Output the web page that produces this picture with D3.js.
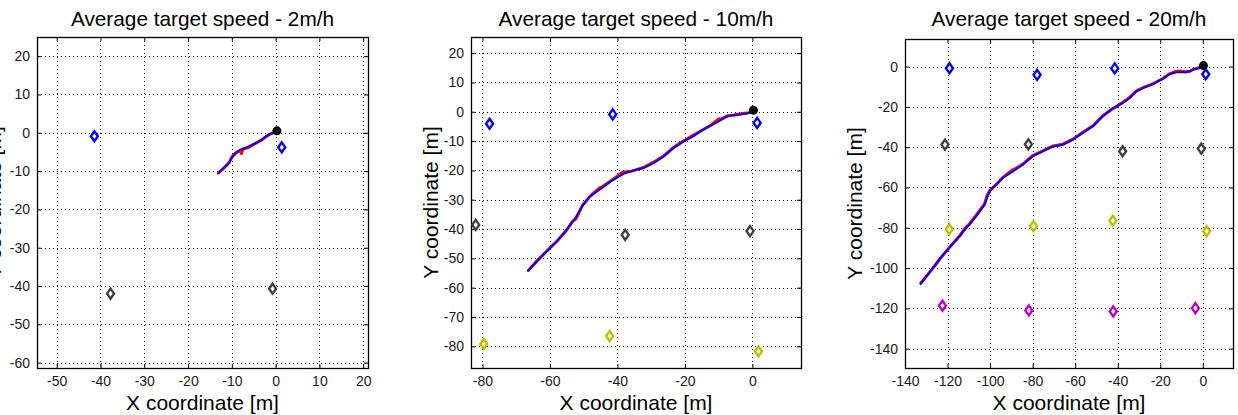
<!DOCTYPE html>
<html><head><meta charset="utf-8">
<script src="https://cdn.jsdelivr.net/npm/d3@7"></script>
<style>
body{margin:0;background:#fff}
svg{display:block}
text{font-family:"Liberation Sans",Arial,sans-serif}
</style>
</head><body>
<svg id="c" width="1238" height="415"></svg>
<script>
// ---------------- DATA ----------------
const titles = ["Average target speed - 2m/h", "Average target speed - 10m/h", "Average target speed - 20m/h"];
const xLabel = "X coordinate [m]";
const yLabel = "Y coordinate [m]";

const xLimits = [[-54.5, 21.1], [-83.4, 14.4], [-140, 14.2]];
const yLimits = [[-61.4, 25], [-87.4, 25.5], [-149.6, 13.7]];

const xTicks1 = [-50, -40, -30, -20, -10, 0, 10, 20];
const yTicks1 = [-60, -50, -40, -30, -20, -10, 0, 10, 20];
const xTicks2 = [-80, -60, -40, -20, 0];
const yTicks2 = [-80, -70, -60, -50, -40, -30, -20, -10, 0, 10, 20];
const xTicks3 = [-140, -120, -100, -80, -60, -40, -20, 0];
const yTicks3 = [-140, -120, -100, -80, -60, -40, -20, 0];

// anchor nodes (shared across the three scenarios)
const blueNodes    = [[-119.1, -0.8], [-77.9, -4.1], [-41.4, -0.9], [1.4, -3.8]];
const grayNodes    = [[-121.2, -38.7], [-82.0, -38.6], [-37.7, -42.0], [-0.7, -40.7]];
const yellowNodes  = [[-119.2, -80.7], [-79.6, -79.2], [-42.3, -76.5], [1.8, -81.7]];
const magentaNodes = [[-122.4, -118.7], [-81.8, -121.0], [-42.1, -121.5], [-3.5, -119.9]];
const startPoint = [0.3, 0.5];

// estimated tracks (blue) and true tracks (red)
const est2 = [[-13.3,-10.8],[-12.0,-9.3],[-10.8,-8.0],[-10.1,-6.7],[-9.3,-5.4],[-8.2,-4.5],[-6.6,-3.8],[-5.1,-3.0],[-3.6,-2.1],[-2.5,-1.2],[-1.3,-0.3],[-0.4,0.0],[0.2,0.4]];
const true2 = [[-13.2,-10.6],[-11.8,-9.2],[-10.6,-7.8],[-10.0,-6.3],[-9.0,-5.2],[-8.0,-4.6],[-7.8,-5.4],[-7.5,-4.3],[-6.2,-3.8],[-4.8,-2.9],[-3.2,-1.9],[-2.2,-1.0],[-1.0,-0.2],[0.2,0.3]];

const est10 = [[-66.7,-54.5],[-63.9,-51.0],[-60.9,-47.6],[-58.0,-44.2],[-55.0,-40.2],[-52.5,-36.3],[-50.5,-32.3],[-48.1,-28.9],[-45.1,-26.4],[-41.2,-23.2],[-38.2,-21.2],[-35.3,-20.0],[-32.3,-19.2],[-29.3,-17.5],[-26.4,-15.3],[-23.4,-12.4],[-20.4,-10.1],[-17.5,-8.4],[-15.5,-6.7],[-12.5,-4.8],[-9.6,-3.0],[-7.6,-1.6],[-5.6,-1.0],[-3.6,-0.9],[-1.2,-0.5],[0.3,0.1]];
const true10 = [[-66.5,-54.2],[-63.6,-50.6],[-60.5,-47.0],[-57.8,-44.0],[-55.2,-40.6],[-53.3,-37.4],[-52.2,-36.4],[-50.4,-32.0],[-48.0,-28.7],[-45.3,-26.0],[-44.5,-25.6],[-41.0,-22.8],[-38.5,-20.6],[-36.2,-20.4],[-32.3,-19.0],[-29.3,-17.2],[-26.2,-15.0],[-23.2,-12.0],[-20.2,-9.8],[-17.6,-8.0],[-15.2,-6.5],[-12.2,-4.5],[-10.0,-2.4],[-9.4,-2.6],[-7.4,-1.4],[-5.4,-1.2],[-3.4,-0.7],[-1.0,-0.3],[0.3,0.1]];

const est20 = [[-133.0,-108.2],[-128.6,-102.4],[-123.9,-95.8],[-119.2,-90.0],[-114.5,-84.3],[-109.8,-78.5],[-105.9,-73.5],[-102.7,-68.6],[-101.2,-64.5],[-99.6,-61.1],[-97.2,-58.7],[-94.1,-55.3],[-89.4,-52.1],[-84.7,-48.7],[-80.0,-44.6],[-75.3,-42.1],[-70.6,-39.7],[-65.9,-38.8],[-61.2,-36.3],[-56.5,-33.0],[-51.8,-29.7],[-47.1,-24.8],[-42.4,-20.6],[-37.6,-18.1],[-34.5,-15.7],[-31.3,-12.4],[-28.2,-10.7],[-23.5,-8.7],[-18.8,-6.1],[-15.7,-3.8],[-12.5,-2.8],[-7.8,-2.8],[-4.7,-1.6],[-0.8,-0.5],[0.3,0.3]];
const true20 = [[-132.8,-107.8],[-128.4,-102.0],[-125.8,-98.6],[-123.6,-95.4],[-119.0,-89.6],[-114.2,-84.0],[-112.0,-80.4],[-109.6,-78.0],[-106.0,-73.0],[-102.6,-68.2],[-101.4,-64.0],[-100.2,-61.6],[-97.0,-58.4],[-94.0,-55.0],[-89.6,-51.4],[-87.0,-50.0],[-84.6,-48.4],[-80.0,-44.2],[-75.2,-41.8],[-70.4,-39.4],[-65.8,-38.5],[-61.0,-36.0],[-56.4,-32.6],[-51.6,-29.4],[-47.0,-24.4],[-43.0,-21.4],[-42.0,-20.8],[-37.4,-17.6],[-34.6,-15.5],[-31.2,-12.0],[-28.0,-10.4],[-23.2,-8.4],[-18.6,-5.8],[-15.6,-3.6],[-12.8,-2.4],[-11.0,-2.2],[-8.0,-2.6],[-6.0,-2.3],[-4.6,-1.4],[-0.8,-0.3],[0.3,0.3]];

// ---------------- LAYOUT ----------------
const panels = [
  {box: [37, 37, 368, 368], xT: xTicks1, yT: yTicks1, est: est2,  tru: true2},
  {box: [471, 37, 801, 368], xT: xTicks2, yT: yTicks2, est: est10, tru: true10},
  {box: [905, 39, 1233, 368], xT: xTicks3, yT: yTicks3, est: est20, tru: true20}
];
const yLabelOffset = [36, 33.5, 43.5];

const svg = d3.select("#c");
const nodeGroups = [
  {pts: blueNodes, color: "#0000ff"},
  {pts: grayNodes, color: "#404040"},
  {pts: yellowNodes, color: "#bfbf00"},
  {pts: magentaNodes, color: "#bf00bf"}
];

panels.forEach((p, i) => {
  const [L, T, R, B] = p.box;
  const x = d3.scaleLinear().domain(xLimits[i]).range([L, R]);
  const y = d3.scaleLinear().domain(yLimits[i]).range([B, T]);
  const g = svg.append("g");
  const clipId = "clip" + i;
  svg.append("clipPath").attr("id", clipId).append("rect")
    .attr("x", L).attr("y", T).attr("width", R - L).attr("height", B - T);

  // grid
  const grid = g.append("g").attr("stroke", "#000").attr("stroke-width", 1).attr("stroke-dasharray", "1,3");
  p.xT.forEach(t => {
    const px = Math.round(x(t)) + 0.5;
    if (px > L + 2) grid.append("line").attr("x1", px).attr("x2", px).attr("y1", T).attr("y2", B);
  });
  p.yT.forEach(t => {
    const py = Math.round(y(t)) + 0.5;
    grid.append("line").attr("x1", L).attr("x2", R).attr("y1", py).attr("y2", py);
  });

  // axes with inward ticks on all sides
  const tl = 4;
  const axB = d3.axisBottom(x).tickValues(p.xT).tickSizeInner(-tl).tickSizeOuter(0).tickPadding(8).tickFormat(d => String(d));
  const axT = d3.axisTop(x).tickValues(p.xT).tickSizeInner(-tl).tickSizeOuter(0).tickFormat("");
  const axL = d3.axisLeft(y).tickValues(p.yT).tickSizeInner(-tl).tickSizeOuter(0).tickPadding(7).tickFormat(d => String(d));
  const axR = d3.axisRight(y).tickValues(p.yT).tickSizeInner(-tl).tickSizeOuter(0).tickFormat("");
  const styleAx = sel => {
    sel.select(".domain").remove();
    sel.selectAll("line").attr("stroke", "#000");
    sel.selectAll("text").attr("font-family", "Liberation Sans, Arial, sans-serif").attr("font-size", 14).attr("fill", "#1a1a1a");
  };
  g.append("g").attr("transform", `translate(0,${B})`).call(axB).call(styleAx);
  g.append("g").attr("transform", `translate(0,${T})`).call(axT).call(styleAx);
  g.append("g").attr("transform", `translate(${L},0)`).call(axL).call(styleAx);
  g.append("g").attr("transform", `translate(${R},0)`).call(axR).call(styleAx);

  // box
  g.append("rect").attr("x", L + 0.5).attr("y", T + 0.5).attr("width", R - L).attr("height", B - T)
    .attr("fill", "none").attr("stroke", "#000").attr("stroke-width", 1.3);

  const plot = g.append("g").attr("clip-path", `url(#${clipId})`);
  const line = d3.line().x(d => x(d[0])).y(d => y(d[1]));

  // tracks
  plot.append("path").datum(p.tru).attr("d", line).attr("fill", "none")
    .attr("stroke", "#ff0000").attr("stroke-width", 3).attr("stroke-linejoin", "round");
  plot.append("path").datum(p.est).attr("d", line).attr("fill", "none")
    .attr("stroke", "#0000ff").attr("stroke-width", 2).attr("stroke-linejoin", "round");

  // nodes (diamonds)
  const inside = d => d[0] >= xLimits[i][0] && d[0] <= xLimits[i][1] && d[1] >= yLimits[i][0] && d[1] <= yLimits[i][1];
  nodeGroups.forEach(ng => {
    plot.selectAll(null).data(ng.pts.filter(inside)).enter().append("path")
      .attr("d", d => {
        const cx = x(d[0]), cy = y(d[1]);
        return `M${cx},${cy - 5}L${cx + 3.5},${cy}L${cx},${cy + 5}L${cx - 3.5},${cy}Z`;
      })
      .attr("fill", "#fff").attr("stroke", ng.color).attr("stroke-width", 2.4);
  });

  // start point
  plot.append("circle").attr("cx", x(startPoint[0])).attr("cy", y(startPoint[1])).attr("r", 4.5).attr("fill", "#000");

  // titles and labels
  const cx = (L + R) / 2, cy = (T + B) / 2;
  g.append("text").attr("x", cx).attr("y", 26).attr("text-anchor", "middle")
    .attr("font-size", 20.8).attr("fill", "#000").text(titles[i]);
  g.append("text").attr("x", cx).attr("y", 410).attr("text-anchor", "middle")
    .attr("font-size", 21).attr("fill", "#000").text(xLabel);
  g.append("text").attr("transform", `translate(${L - yLabelOffset[i]},${cy}) rotate(-90)`)
    .attr("text-anchor", "middle").attr("font-size", 21).attr("fill", "#000").text(yLabel);
});
</script>
</body></html>
